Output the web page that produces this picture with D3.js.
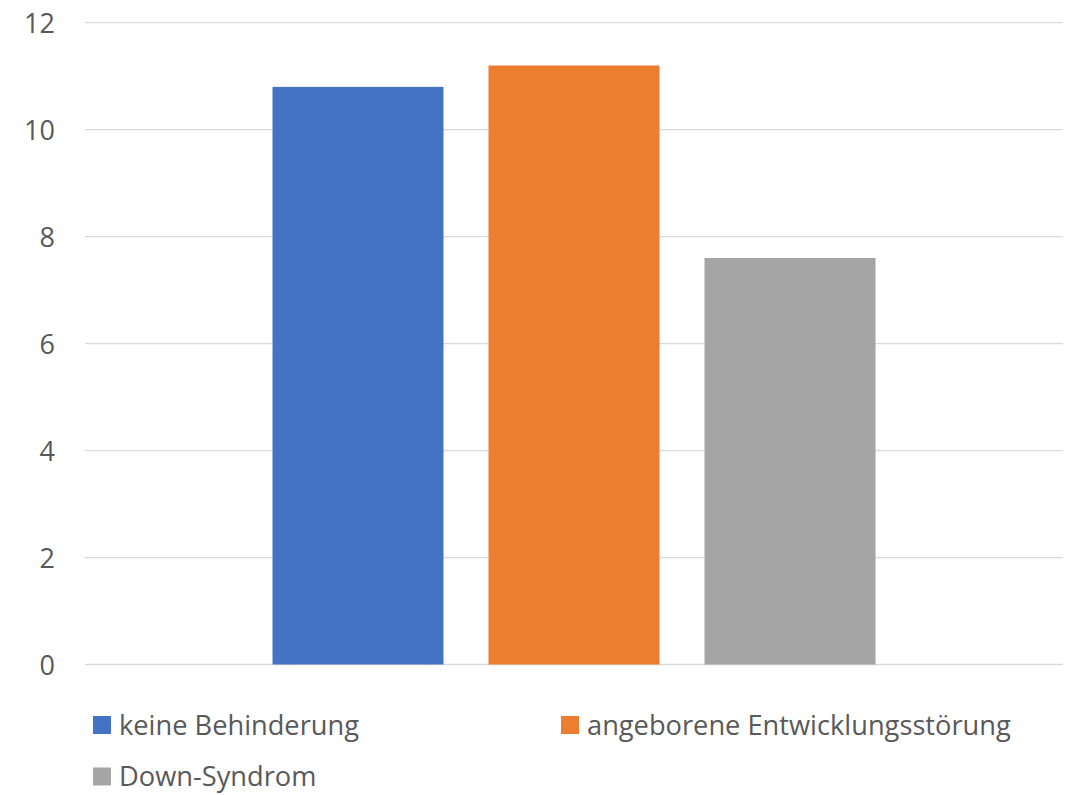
<!DOCTYPE html>
<html><head><meta charset="utf-8">
<script src="https://cdn.jsdelivr.net/npm/d3@7"></script>
<style>html,body{margin:0;padding:0;background:#fff;}svg{display:block;}</style>
</head><body>
<svg id="chart" width="1071" height="795"></svg>
<script>
const categories = [""];
const seriesNames = ["keine Behinderung", "angeborene Entwicklungsstörung", "Down-Syndrom"];
const seriesValues = [10.8, 11.2, 7.6];
const seriesColors = ["#4472C4", "#ED7D31", "#A5A5A5"];
const yTicks = [0, 2, 4, 6, 8, 10, 12];

const svg = d3.select("#chart");
const font = "'Open Sans', 'Noto Sans', sans-serif";
const textColor = "#595959";

const plot = {left: 85, right: 1063, top: 22.7, bottom: 664.5};
const y = d3.scaleLinear().domain([0, 12]).range([plot.bottom, plot.top]);
const x0 = d3.scaleBand().domain(categories).range([plot.left, plot.right]).padding(0);
const x1 = d3.scaleBand().domain(seriesNames).range([x0(categories[0]), x0(categories[0]) + x0.bandwidth()])
  .paddingInner(0.2083).paddingOuter(0.868);

// gridlines
svg.append("g").selectAll("line").data(yTicks).join("line")
  .attr("x1", plot.left).attr("x2", plot.right)
  .attr("y1", d => y(d)).attr("y2", d => y(d))
  .attr("stroke", "#d9d9d9").attr("stroke-width", 1.3);

// y axis labels
const yAxis = d3.axisLeft(y).tickValues(yTicks).tickSize(0).tickPadding(0).tickFormat(d3.format("d"));
const ya = svg.append("g").attr("transform", "translate(55,0)").call(yAxis);
ya.select(".domain").remove();
ya.selectAll("text").attr("font-family", font).attr("font-size", 27).attr("fill", textColor).attr("dy", "0.36em");

// bars
svg.append("g").selectAll("rect").data(seriesNames.map((n, i) => ({n, v: seriesValues[i], c: seriesColors[i]})))
  .join("rect")
  .attr("x", d => x1(d.n)).attr("width", x1.bandwidth())
  .attr("y", d => y(d.v)).attr("height", d => y(0) - y(d.v))
  .attr("fill", d => d.c);

// legend
const legCols = [93, 561], legRows = [716, 767.5];
const leg = svg.append("g").selectAll("g").data(seriesNames).join("g")
  .attr("transform", (d, i) => `translate(${legCols[i % 2]},${legRows[Math.floor(i / 2)]})`);
leg.append("rect").attr("width", 18).attr("height", 18).attr("fill", (d, i) => seriesColors[i]);
const lt = leg.append("text").attr("x", 26).attr("y", 9).attr("dy", "0.35em")
  .attr("font-family", font).attr("font-size", 24).attr("fill", textColor).text(d => d);
// fit font size so the longest label matches reference width (~424px)
const w = lt.nodes()[1].getComputedTextLength();
lt.attr("font-size", 24 * 424 / w);
</script>
</body></html>
